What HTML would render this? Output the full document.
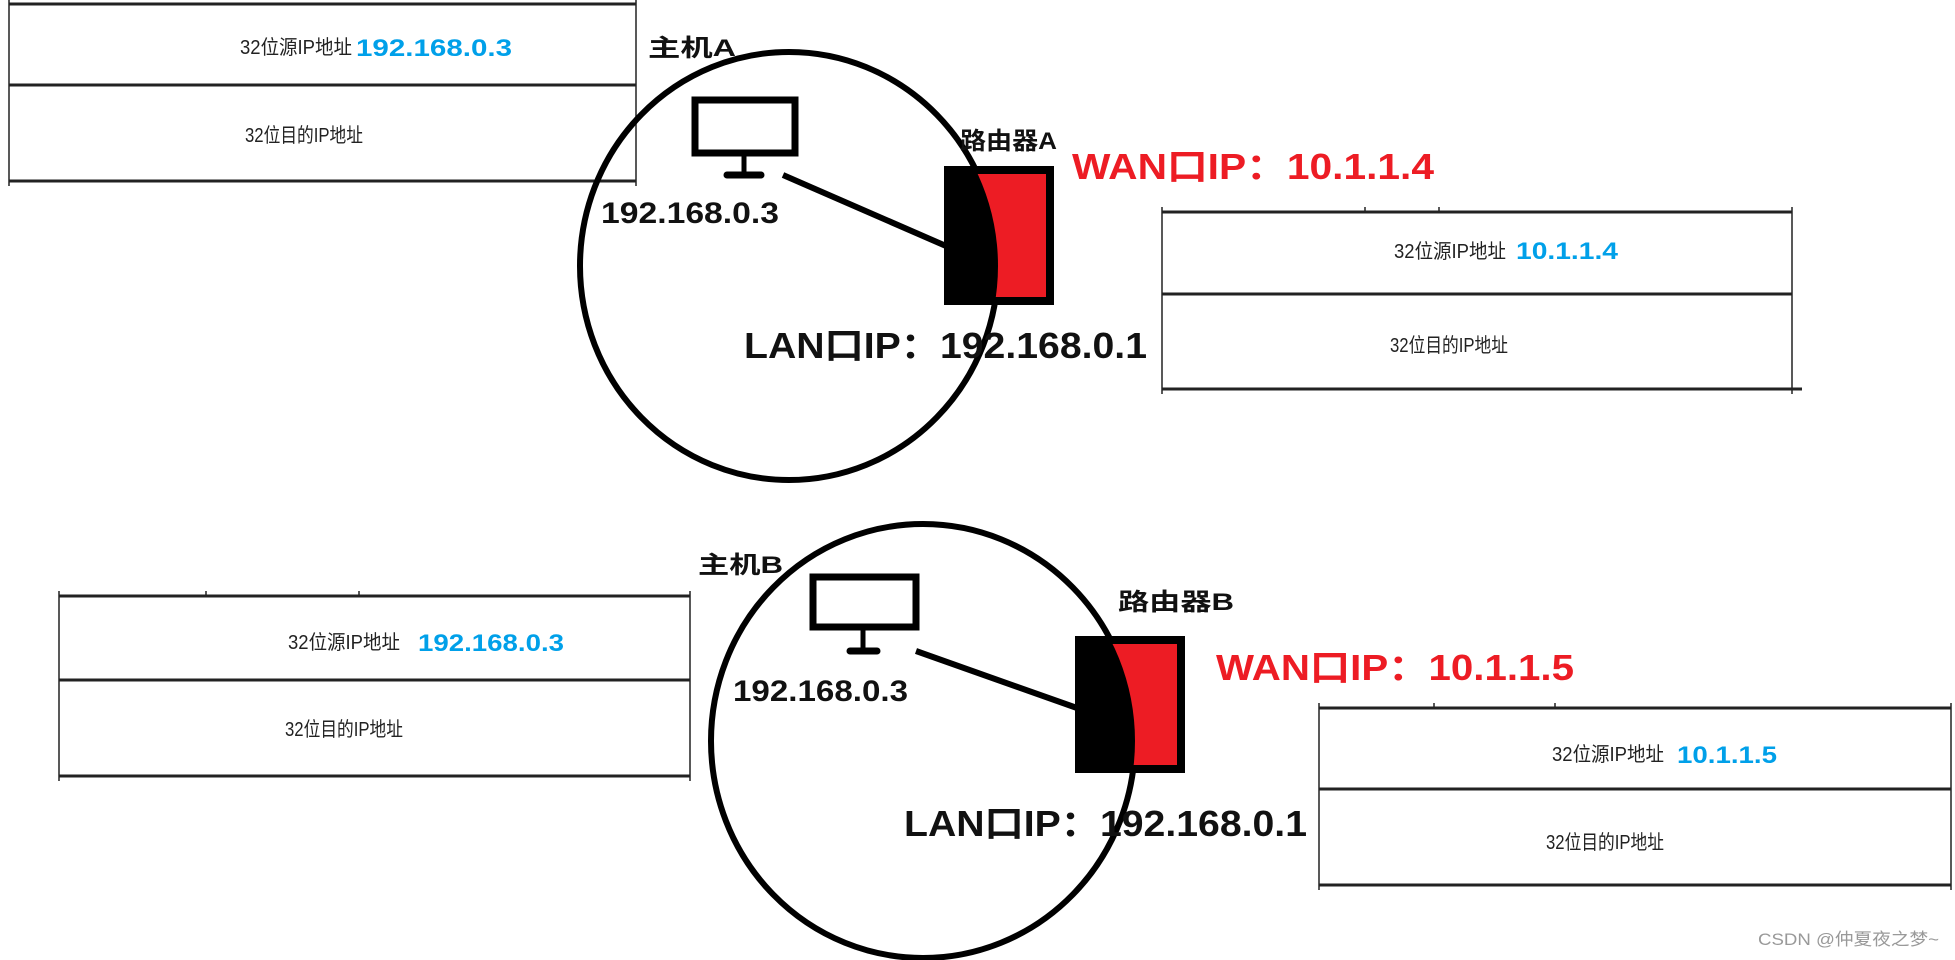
<!DOCTYPE html>
<html><head><meta charset="utf-8"><style>
html,body{margin:0;padding:0;background:#fff;}
svg{display:block;}
text{font-family:"Liberation Sans","Noto Sans CJK SC",sans-serif;}
.t{font-size:20px;fill:#222;}
.b{font-size:24px;font-weight:bold;fill:#00a0e9;}
.k{font-weight:bold;fill:#111;}
.r{font-weight:bold;fill:#ed1c24;}
</style></head><body>
<svg width="1955" height="960" viewBox="0 0 1955 960" xmlns="http://www.w3.org/2000/svg">
<defs>
<clipPath id="ra"><rect x="944" y="166" width="110" height="139"/></clipPath>
<clipPath id="rb"><rect x="1075" y="636" width="110" height="137"/></clipPath>
</defs>
<!-- Table A1 -->
<g stroke="#222" fill="none">
<line x1="9" y1="4" x2="636" y2="4" stroke-width="3"/>
<line x1="9" y1="85" x2="636" y2="85" stroke-width="3"/>
<line x1="9" y1="181" x2="636" y2="181" stroke-width="3"/>
<line x1="9" y1="0" x2="9" y2="186" stroke-width="1.5"/>
<line x1="636" y1="0" x2="636" y2="186" stroke-width="1.5"/>
</g>
<text class="t" x="240" y="54" textLength="112" lengthAdjust="spacingAndGlyphs">32位源IP地址</text>
<text class="b" x="356" y="56" textLength="156" lengthAdjust="spacingAndGlyphs">192.168.0.3</text>
<text class="t" x="245" y="142" textLength="118" lengthAdjust="spacingAndGlyphs">32位目的IP地址</text>

<!-- Table A2 -->
<g stroke="#222" fill="none">
<line x1="1162" y1="212" x2="1792" y2="212" stroke-width="3"/>
<line x1="1162" y1="294" x2="1792" y2="294" stroke-width="3"/>
<line x1="1162" y1="389" x2="1802" y2="389" stroke-width="3"/>
<line x1="1162" y1="207" x2="1162" y2="394" stroke-width="1.5"/>
<line x1="1792" y1="207" x2="1792" y2="394" stroke-width="1.5"/>
<line x1="1365" y1="207" x2="1365" y2="212" stroke-width="1.5"/>
<line x1="1439" y1="207" x2="1439" y2="212" stroke-width="1.5"/>
</g>
<text class="t" x="1394" y="258" textLength="112" lengthAdjust="spacingAndGlyphs">32位源IP地址</text>
<text class="b" x="1516" y="259" textLength="102" lengthAdjust="spacingAndGlyphs">10.1.1.4</text>
<text class="t" x="1390" y="352" textLength="118" lengthAdjust="spacingAndGlyphs">32位目的IP地址</text>

<!-- Circle A -->
<ellipse cx="789" cy="266" rx="209" ry="214" fill="none" stroke="#000" stroke-width="6"/>
<text class="k" x="648" y="56" font-size="24" textLength="88" lengthAdjust="spacingAndGlyphs">主机A</text>
<rect x="695" y="100" width="100" height="53" fill="none" stroke="#000" stroke-width="7"/>
<line x1="744" y1="153" x2="744" y2="175" stroke="#000" stroke-width="5"/>
<line x1="727" y1="175" x2="761" y2="175" stroke="#000" stroke-width="7" stroke-linecap="round"/>
<text class="k" x="601" y="223" font-size="30" textLength="178" lengthAdjust="spacingAndGlyphs">192.168.0.3</text>
<line x1="783" y1="175" x2="946" y2="246" stroke="#000" stroke-width="6"/>
<rect x="944" y="166" width="110" height="139" fill="#000"/>
<rect x="952" y="174" width="94" height="123" fill="#ed1c24"/>
<ellipse cx="789" cy="266" rx="209" ry="214" fill="#000" clip-path="url(#ra)"/>
<text class="k" x="960" y="149" font-size="24" textLength="97" lengthAdjust="spacingAndGlyphs">路由器A</text>
<text class="r" x="1072" y="179" font-size="36" textLength="362" lengthAdjust="spacingAndGlyphs">WAN口IP：10.1.1.4</text>
<text class="k" x="744" y="358" font-size="36" textLength="403" lengthAdjust="spacingAndGlyphs">LAN口IP：192.168.0.1</text>

<!-- Table B1 -->
<g stroke="#222" fill="none">
<line x1="59" y1="596" x2="690" y2="596" stroke-width="3"/>
<line x1="59" y1="680" x2="690" y2="680" stroke-width="3"/>
<line x1="59" y1="776" x2="690" y2="776" stroke-width="3"/>
<line x1="59" y1="591" x2="59" y2="781" stroke-width="1.5"/>
<line x1="690" y1="591" x2="690" y2="781" stroke-width="1.5"/>
<line x1="206" y1="591" x2="206" y2="596" stroke-width="1.5"/>
<line x1="359" y1="591" x2="359" y2="596" stroke-width="1.5"/>
</g>
<text class="t" x="288" y="649" textLength="112" lengthAdjust="spacingAndGlyphs">32位源IP地址</text>
<text class="b" x="418" y="651" textLength="146" lengthAdjust="spacingAndGlyphs">192.168.0.3</text>
<text class="t" x="285" y="736" textLength="118" lengthAdjust="spacingAndGlyphs">32位目的IP地址</text>

<!-- Table B2 -->
<g stroke="#222" fill="none">
<line x1="1319" y1="708" x2="1951" y2="708" stroke-width="3"/>
<line x1="1319" y1="789" x2="1951" y2="789" stroke-width="3"/>
<line x1="1319" y1="885" x2="1951" y2="885" stroke-width="3"/>
<line x1="1319" y1="703" x2="1319" y2="890" stroke-width="1.5"/>
<line x1="1951" y1="703" x2="1951" y2="890" stroke-width="1.5"/>
<line x1="1434" y1="703" x2="1434" y2="708" stroke-width="1.5"/>
<line x1="1555" y1="703" x2="1555" y2="708" stroke-width="1.5"/>
</g>
<text class="t" x="1552" y="761" textLength="112" lengthAdjust="spacingAndGlyphs">32位源IP地址</text>
<text class="b" x="1677" y="763" textLength="100" lengthAdjust="spacingAndGlyphs">10.1.1.5</text>
<text class="t" x="1546" y="849" textLength="118" lengthAdjust="spacingAndGlyphs">32位目的IP地址</text>

<!-- Circle B -->
<ellipse cx="923" cy="741" rx="212" ry="217" fill="none" stroke="#000" stroke-width="6"/>
<text class="k" x="698" y="573" font-size="24" textLength="85" lengthAdjust="spacingAndGlyphs">主机B</text>
<rect x="813" y="577" width="103" height="50" fill="none" stroke="#000" stroke-width="7"/>
<line x1="863" y1="627" x2="863" y2="651" stroke="#000" stroke-width="5"/>
<line x1="850" y1="651" x2="877" y2="651" stroke="#000" stroke-width="7" stroke-linecap="round"/>
<text class="k" x="733" y="701" font-size="30" textLength="175" lengthAdjust="spacingAndGlyphs">192.168.0.3</text>
<line x1="916" y1="651" x2="1077" y2="708" stroke="#000" stroke-width="6"/>
<rect x="1075" y="636" width="110" height="137" fill="#000"/>
<rect x="1083" y="644" width="94" height="121" fill="#ed1c24"/>
<ellipse cx="923" cy="741" rx="212" ry="217" fill="#000" clip-path="url(#rb)"/>
<text class="k" x="1118" y="610" font-size="24" textLength="116" lengthAdjust="spacingAndGlyphs">路由器B</text>
<text class="r" x="1216" y="680" font-size="36" textLength="358" lengthAdjust="spacingAndGlyphs">WAN口IP：10.1.1.5</text>
<text class="k" x="904" y="836" font-size="36" textLength="403" lengthAdjust="spacingAndGlyphs">LAN口IP：192.168.0.1</text>

<text x="1758" y="945" font-size="17" fill="#999" textLength="181" lengthAdjust="spacingAndGlyphs">CSDN @仲夏夜之梦~</text>
</svg>
</body></html>
